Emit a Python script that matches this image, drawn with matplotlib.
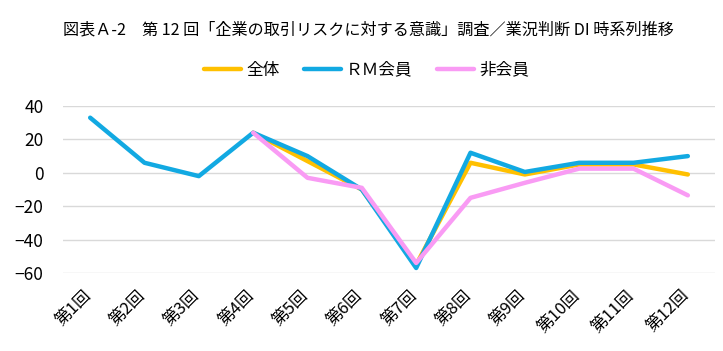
import matplotlib
matplotlib.use("Agg")
import matplotlib.pyplot as plt
import matplotlib.transforms as mtransforms
import numpy as np

plt.rcParams['font.family'] = ['Noto Sans CJK JP', 'DejaVu Sans']

# data
rounds = ["第1回", "第2回", "第3回", "第4回", "第5回", "第6回",
          "第7回", "第8回", "第9回", "第10回", "第11回", "第12回"]
nan = np.nan
zentai = [nan, nan, nan, 24, 7, -10, -55, 6, -1, 5, 5, -1]
rm_kaiin = [33, 6, -2, 24, 10, -10, -57, 12, 0.5, 6, 6, 10]
hi_kaiin = [nan, nan, nan, 24, -3, -9, -54, -15, -6, 2.5, 2.5, -13.5]
title = "図表Ａ-2　第 12 回「企業の取引リスクに対する意識」調査／業況判断 DI 時系列推移"

fig = plt.figure(figsize=(7.23, 3.51), dpi=100)
ax = fig.add_axes([63/723, 1-273/351, 652/723, 167/351])

x = np.arange(len(rounds))
ax.plot(x, zentai, color="#FFC000", lw=3.2, label="全体", solid_capstyle="round")
ax.plot(x, rm_kaiin, color="#12A9E2", lw=3.2, label="ＲＭ会員", solid_capstyle="round")
ax.plot(x, hi_kaiin, color="#F99BF4", lw=3.2, label="非会員", solid_capstyle="round")

ax.set_ylim(-60, 40)
ax.set_yticks([-60, -40, -20, 0, 20, 40])
ax.set_xlim(-0.5, len(rounds) - 0.5)
ax.set_xticks(x)
ax.set_xticklabels(rounds, rotation=45, ha="right", fontsize=12)
ax.tick_params(axis="x", length=0, pad=10)
ax.tick_params(axis="y", length=0, pad=14, labelsize=12.5)
shift = mtransforms.ScaledTranslation(4/100, 0, fig.dpi_scale_trans)
for lbl in ax.get_xticklabels():
    lbl.set_transform(lbl.get_transform() + shift)
ax.grid(axis="y", color="#D9D9D9", lw=1)
ax.set_axisbelow(True)
for s in ax.spines.values():
    s.set_visible(False)

fig.text(0.51, 1-30/351, title, ha="center", va="center", fontsize=11.6)
fig.legend(loc="center", bbox_to_anchor=(0.507, 1-70/351), ncol=3, frameon=False,
           fontsize=12, handlelength=2.2, columnspacing=1.5, handletextpad=0.3)

fig.savefig("out.png", dpi=100)
